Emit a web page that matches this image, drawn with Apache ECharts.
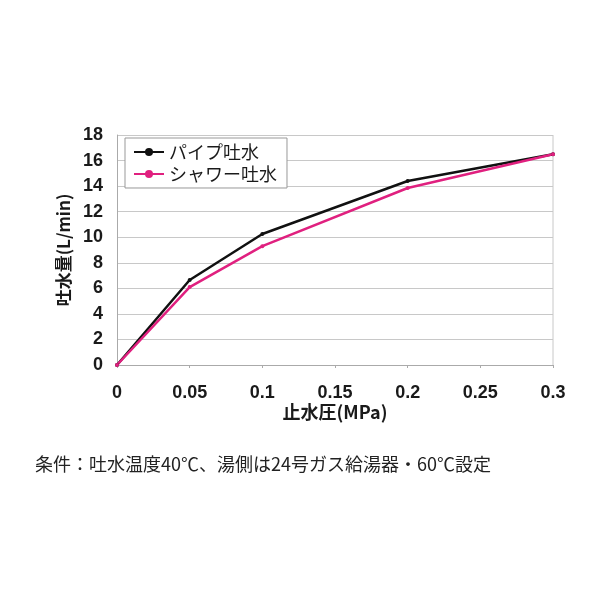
<!DOCTYPE html>
<html><head><meta charset="utf-8">
<script src="https://cdn.jsdelivr.net/npm/echarts@6/dist/echarts.min.js"></script>
<style>html,body{margin:0;padding:0;background:#fff}#c{width:600px;height:600px}</style>
</head><body><div id="c"></div>
<script>
const pressure = [0, 0.05, 0.1, 0.2, 0.3];
const pipeFlow = [0, 6.65, 10.25, 14.4, 16.5];
const showerFlow = [0, 6.1, 9.3, 13.85, 16.5];
const seriesNames = ['パイプ吐水', 'シャワー吐水'];
const xName = '止水圧(MPa)';
const yName = '吐水量(L/min)';
const note = '条件：吐水温度40℃、湯側は24号ガス給湯器・60℃設定';

const chart = echarts.init(document.getElementById('c'));
const numFont = {fontFamily: '"Liberation Sans Narrow", "Arial Narrow", sans-serif', fontWeight: 'bold', fontSize: 18, color: '#1a1a1a'};
chart.setOption({
  animation: false,
  grid: {left: 117, right: 47, top: 135, bottom: 235},
  legend: {
    left: 125, top: 138, orient: 'vertical', itemGap: 4,
    padding: [5, 10, 5, 8],
    borderColor: '#999', borderWidth: 1, backgroundColor: '#fff',
    itemWidth: 30, itemHeight: 10,
    textStyle: {fontFamily: 'Noto Sans CJK JP', fontSize: 18, color: '#1a1a1a'},
    data: seriesNames
  },
  xAxis: {
    type: 'value', min: 0, max: 0.3, interval: 0.05,
    name: xName, nameLocation: 'middle', nameGap: 38,
    nameTextStyle: {fontFamily: '"Liberation Sans Narrow", "Noto Sans CJK JP"', fontSize: 18, fontWeight: 'bold', color: '#1a1a1a'},
    axisLine: {show: true, lineStyle: {color: '#aaa'}},
    axisTick: {show: true, length: 3, lineStyle: {color: '#aaa'}},
    axisLabel: Object.assign({margin: 19, formatter: v => String(+v.toFixed(2))}, numFont),
    splitLine: {show: false}
  },
  yAxis: {
    type: 'value', min: 0, max: 18, interval: 2,
    name: yName, nameLocation: 'middle', nameGap: 36, nameRotate: 90,
    nameTextStyle: {fontFamily: '"Liberation Sans Narrow", "Noto Sans CJK JP"', fontSize: 17, fontWeight: 'bold', color: '#1a1a1a'},
    axisLine: {show: true, lineStyle: {color: '#aaa'}},
    axisTick: {show: false},
    axisLabel: Object.assign({margin: 14}, numFont),
    splitLine: {show: true, lineStyle: {color: '#c8c8c8', width: 1}}
  },
  graphic: [
    {type: 'line', shape: {x1: 553, y1: 135, x2: 553, y2: 365}, style: {stroke: '#c8c8c8', lineWidth: 1}},
    {type: 'text', left: 35, top: 455, style: {text: note, font: '18px "Noto Sans CJK JP"', fill: '#222'}}
  ],
  series: [
    {name: seriesNames[0], type: 'line', data: pressure.map((p, i) => [p, pipeFlow[i]]),
     color: '#111', lineStyle: {width: 2.5, color: '#111'}, symbol: 'circle', symbolSize: 4, itemStyle: {color: '#111'}},
    {name: seriesNames[1], type: 'line', data: pressure.map((p, i) => [p, showerFlow[i]]),
     color: '#e0207f', lineStyle: {width: 2.5, color: '#e0207f'}, symbol: 'circle', symbolSize: 4, itemStyle: {color: '#e0207f'}}
  ]
});
</script></body></html>
